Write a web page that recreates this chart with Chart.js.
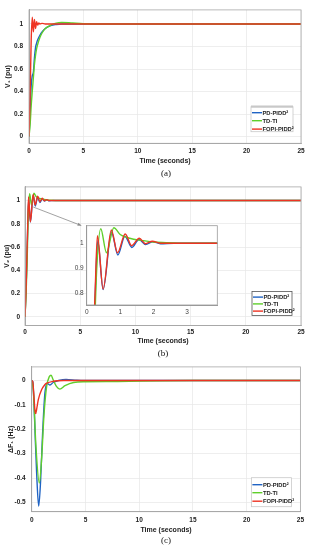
<!DOCTYPE html>
<html><head><meta charset="utf-8">
<script src="https://cdn.jsdelivr.net/npm/chart.js@4"></script>
<style>
html,body{margin:0;padding:0;background:#fff;width:309px;height:550px;overflow:hidden}
canvas{position:absolute}
.cap{position:absolute;width:40px;text-align:center;font-family:"Liberation Serif",serif;font-size:9px;color:#111;line-height:10px}
</style></head><body>
<canvas id="cA" width="309" height="178" style="left:0;top:0"></canvas>
<canvas id="cB" width="309" height="179" style="left:0;top:178px"></canvas>
<canvas id="cC" width="309" height="193" style="left:0;top:357px"></canvas>
<canvas id="cI" width="166" height="104" style="left:58px;top:214px"></canvas>
<div class="cap" style="left:146px;top:168px">(a)</div>
<div class="cap" style="left:143px;top:348px">(b)</div>
<div class="cap" style="left:146px;top:535px">(c)</div>
<script>
// ---------- data ----------
const seriesNames = ['PD-PIDD²', 'TD-TI', 'FOPI-PIDD²'];
const seriesColors = ['#1f63c4', '#5fcf2b', '#ee3322'];
const xTicks = [0, 5, 10, 15, 20, 25];
const v1Ticks = [0, 0.2, 0.4, 0.6, 0.8, 1];
const v2Ticks = [0, 0.2, 0.4, 0.6, 0.8, 1];
const f1Ticks = [0, -0.1, -0.2, -0.3, -0.4, -0.5];
const insetXTicks = [0, 1, 2, 3];
const insetYTicks = [0.8, 0.9, 1];

// (a) V1 (pu)
const tV1PD = [0, 0.1, 0.2, 0.3, 0.4, 0.5, 0.6, 0.7, 0.8, 1.0, 1.2, 1.5, 2, 2.5, 3, 5, 25];
const v1PD  = [0, 0.2, 0.45, 0.54, 0.57, 0.7, 0.79, 0.83, 0.86, 0.9, 0.93, 0.96, 0.985, 0.995, 1, 1, 1];
const tV1TD = [0, 0.1, 0.2, 0.3, 0.4, 0.5, 0.6, 0.7, 0.8, 1.0, 1.2, 1.5, 2, 2.5, 3, 4, 5, 7, 25];
const v1TD  = [0, 0.1, 0.27, 0.4, 0.52, 0.64, 0.72, 0.78, 0.82, 0.88, 0.92, 0.96, 0.99, 1.008, 1.014, 1.008, 1.002, 1, 1];
const tV1FO = [0, 0.1, 0.2, 0.3, 0.4, 0.5, 0.6, 0.7, 0.8, 0.9, 1.0, 1.2, 1.5, 25];
const v1FO  = [0, 0.35, 0.85, 1.06, 0.93, 1.04, 0.96, 1.02, 0.99, 1.01, 1.0, 1.005, 1, 1];

// (b) V2 (pu)
const tV2PD = [0, 0.1, 0.2, 0.25, 0.33, 0.49, 0.74, 0.93, 1.14, 1.35, 1.56, 1.76, 1.97, 2.2, 2.6, 25];
const v2PD  = [0, 0.25, 0.6, 0.78, 1.01, 0.815, 1.045, 0.953, 1.028, 0.983, 1.015, 0.995, 1.006, 0.998, 1, 1];
const tV2TD = [0, 0.1, 0.2, 0.25, 0.3, 0.42, 0.59, 0.81, 1.0, 1.15, 1.4, 1.7, 2.0, 2.4, 3, 25];
const v2TD  = [0, 0.2, 0.5, 0.72, 0.9, 1.058, 0.962, 1.062, 1.035, 1.025, 1.016, 1.01, 1.005, 1.002, 1, 1];
const tV2FO = [0, 0.1, 0.2, 0.25, 0.32, 0.49, 0.735, 0.92, 1.15, 1.34, 1.57, 1.75, 1.96, 2.2, 25];
const v2FO  = [0, 0.25, 0.62, 0.8, 1.03, 0.817, 1.053, 0.962, 1.037, 0.99, 1.02, 0.998, 1.008, 1, 1];

// (c) ΔF1 (Hz)
const tF1PD = [0, 0.1, 0.2, 0.31, 0.46, 0.65, 0.83, 1.02, 1.23, 1.45, 1.7, 2, 2.5, 3.2, 4.2, 5, 25];
const f1PD  = [0, -0.005, -0.08, -0.21, -0.38, -0.515, -0.41, -0.21, -0.05, -0.012, -0.018, -0.008, 0, 0.005, 0.001, 0, 0];
const tF1TD = [0, 0.15, 0.4, 0.71, 0.93, 1.14, 1.39, 1.64, 1.8, 2.0, 2.3, 2.62, 3.1, 3.9, 5, 8, 12, 15, 25];
const f1TD  = [0, -0.04, -0.275, -0.42, -0.315, -0.143, -0.024, 0.016, 0.022, 0.003, -0.024, -0.035, -0.021, -0.008, -0.005, -0.004, -0.001, 0, 0];
const tF1FO = [0, 0.1, 0.2, 0.3, 0.37, 0.45, 0.62, 0.93, 1.2, 1.4, 2, 3, 25];
const f1FO  = [0, -0.005, -0.06, -0.12, -0.135, -0.12, -0.077, -0.037, -0.018, -0.011, -0.003, 0, 0];

// zoom arrow (data coordinates of panel b)
const arrowFrom = [0.75, 0.944];
const arrowTo = [5.1, 0.785];

// ---------- helpers ----------
const FONT = '"Liberation Sans", Arial, sans-serif';
function ds(i, t, v) {
  return {
    label: seriesNames[i],
    data: t.map((x, k) => ({x: x, y: v[k]})),
    borderColor: seriesColors[i],
    backgroundColor: seriesColors[i],
    borderWidth: 1.4,
    pointRadius: 0,
    cubicInterpolationMode: 'monotone',
    order: 2 - i,
    fill: false
  };
}
function fixTicks(list) { return s => { s.ticks = list.map(v => ({value: v})); }; }
const plainLabel = v => String(Math.round(v * 1000) / 1000);

const frame = {
  id: 'frame',
  afterDraw(chart, a, o) {
    const c = chart.chartArea, ctx = chart.ctx;
    ctx.save();
    ctx.strokeStyle = o.color || '#a8a8a8';
    ctx.lineWidth = 0.8;
    ctx.strokeRect(c.left, c.top, c.right - c.left, c.bottom - c.top);
    ctx.restore();
  }
};
const whiteArea = {
  id: 'whiteArea',
  beforeDraw(chart, a, o) {
    if (!o || !o.on) return;
    const c = chart.chartArea, ctx = chart.ctx;
    ctx.save(); ctx.fillStyle = '#fff';
    ctx.fillRect(c.left, c.top, c.right - c.left, c.bottom - c.top);
    ctx.restore();
  }
};
const insideLegend = {
  id: 'insideLegend',
  afterDraw(chart, a, o) {
    if (!o || !o.show) return;
    const c = chart.chartArea, ctx = chart.ctx;
    const x0 = c.right - o.right - o.w, y0 = c.bottom - o.bottom - o.h;
    ctx.save();
    ctx.fillStyle = '#fff';
    ctx.fillRect(x0, y0, o.w, o.h);
    ctx.strokeStyle = o.border; ctx.lineWidth = 0.8;
    ctx.strokeRect(x0, y0, o.w, o.h);
    if (o.header) { ctx.fillStyle = o.header; ctx.fillRect(x0, y0 - 1.2, o.w, 2.2); }
    ctx.font = 'bold 5.8px ' + FONT;
    ctx.textBaseline = 'middle';
    chart.data.datasets.forEach((d, i) => {
      const y = y0 + o.rows[i];
      ctx.strokeStyle = d.borderColor; ctx.lineWidth = 1.4;
      ctx.beginPath(); ctx.moveTo(x0 + 1, y); ctx.lineTo(x0 + 11, y); ctx.stroke();
      ctx.fillStyle = '#222';
      ctx.fillText(d.label, x0 + 11.5, y + 0.3);
    });
    ctx.restore();
  }
};
const zoomArrow = {
  id: 'zoomArrow',
  afterDatasetsDraw(chart, a, o) {
    if (!o || !o.on) return;
    const xs = chart.scales.x, ys = chart.scales.y, ctx = chart.ctx;
    const x1 = xs.getPixelForValue(arrowFrom[0]), y1 = ys.getPixelForValue(arrowFrom[1]);
    const x2 = xs.getPixelForValue(arrowTo[0]), y2 = ys.getPixelForValue(arrowTo[1]);
    const ang = Math.atan2(y2 - y1, x2 - x1);
    ctx.save();
    ctx.strokeStyle = '#8a8a8a'; ctx.fillStyle = '#8a8a8a'; ctx.lineWidth = 0.8;
    ctx.beginPath(); ctx.moveTo(x1, y1); ctx.lineTo(x2, y2); ctx.stroke();
    ctx.beginPath();
    ctx.moveTo(x2, y2);
    ctx.lineTo(x2 - 4 * Math.cos(ang - 0.4), y2 - 4 * Math.sin(ang - 0.4));
    ctx.lineTo(x2 - 4 * Math.cos(ang + 0.4), y2 - 4 * Math.sin(ang + 0.4));
    ctx.closePath(); ctx.fill();
    ctx.restore();
  }
};

// L: layout of a panel inside its canvas
function panel(id, L, datasets, yTicks, yMin, yMax, yTitle, legendOpts, arrowOn) {
  const cv = document.getElementById(id);
  const W = cv.width, H = cv.height;
  const axisBottom = L.titleY + 4.2;
  return new Chart(cv, {
    type: 'line',
    data: {datasets: datasets},
    options: {
      responsive: false, animation: false, devicePixelRatio: 1,
      layout: {padding: {left: 0, right: W - L.right, top: L.top, bottom: H - axisBottom}},
      plugins: {
        legend: {display: false}, tooltip: {enabled: false},
        insideLegend: legendOpts, zoomArrow: {on: arrowOn}, frame: {color: '#a8a8a8'}
      },
      scales: {
        x: {
          type: 'linear', min: 0, max: 25,
          afterBuildTicks: fixTicks(xTicks),
          afterFit: s => { s.height = axisBottom - L.bottom; },
          grid: {color: '#e6e6e6', lineWidth: 0.7, drawTicks: false},
          border: {color: '#a8a8a8'},
          ticks: {padding: L.xtp, color: '#222', callback: plainLabel, font: {family: FONT, size: 6.5, weight: 'bold'}, maxRotation: 0},
          title: {display: true, text: 'Time (seconds)', color: '#222', padding: 0, font: {family: FONT, size: 7, weight: 'bold'}}
        },
        y: {
          type: 'linear', min: yMin, max: yMax,
          afterBuildTicks: fixTicks(yTicks),
          afterFit: s => { s.width = L.left; },
          grid: {color: '#e6e6e6', lineWidth: 0.7, drawTicks: false},
          border: {color: '#a8a8a8'},
          ticks: {padding: L.ytp, color: '#222', callback: plainLabel, font: {family: FONT, size: 6.5, weight: 'bold'}},
          title: {display: true, text: yTitle, color: '#222', padding: {top: L.yttp, bottom: 0}, font: {family: FONT, size: 7, weight: 'bold'}}
        }
      }
    },
    plugins: [whiteArea, frame, insideLegend, zoomArrow]
  });
}

// (a)
panel('cA', {left: 29, right: 301, top: 4.7, bottom: 143.3, titleY: 160.7, xtp: 4, ytp: 6, yttp: 4},
  [ds(0, tV1PD, v1PD), ds(1, tV1TD, v1TD), ds(2, tV1FO, v1FO)],
  v1Ticks, -0.06, 1.125, 'V₁ (pu)',
  {show: true, right: 8, bottom: 11.6, w: 42, h: 25, rows: [6, 14, 22.4], border: '#c8c8c8', header: '#c8c8c8'}, false);

// (b)
panel('cB', {left: 25, right: 301, top: 5.3, bottom: 147.5, titleY: 162.7, xtp: 2.5, ytp: 5, yttp: 2.5},
  [ds(0, tV2PD, v2PD), ds(1, tV2TD, v2TD), ds(2, tV2FO, v2FO)],
  v2Ticks, -0.074, 1.117, 'V₂ (pu)',
  {show: true, right: 9, bottom: 10, w: 40, h: 24, rows: [5.6, 12.4, 19.6], border: '#555', header: null}, true);

// (c)
panel('cC', {left: 31.7, right: 301.7, top: 5, bottom: 154.7, titleY: 173, xtp: 5, ytp: 6, yttp: 6.5},
  [ds(0, tF1PD, f1PD), ds(1, tF1TD, f1TD), ds(2, tF1FO, f1FO)],
  f1Ticks, -0.538, 0.056, 'ΔF₁ (Hz)',
  {show: true, right: 9, bottom: 5, w: 40, h: 29, rows: [7, 15, 23.5], border: '#c8c8c8', header: null}, false);

// inset of (b)
(function () {
  const cv = document.getElementById('cI');
  const L = {left: 28.7, right: 159.3, top: 11.7, bottom: 91};
  new Chart(cv, {
    type: 'line',
    data: {datasets: [ds(0, tV2PD, v2PD), ds(1, tV2TD, v2TD), ds(2, tV2FO, v2FO)]},
    options: {
      responsive: false, animation: false, devicePixelRatio: 1,
      layout: {padding: {left: 0, right: cv.width - L.right, top: L.top, bottom: 0}},
      plugins: {legend: {display: false}, tooltip: {enabled: false}, whiteArea: {on: true}, frame: {color: '#9a9a9a'}},
      scales: {
        x: {
          type: 'linear', min: 0, max: 3.9,
          afterBuildTicks: fixTicks(insetXTicks),
          afterFit: s => { s.height = cv.height - L.bottom; },
          grid: {display: false, drawTicks: false},
          border: {color: '#9a9a9a'},
          ticks: {padding: 3, color: '#444', callback: plainLabel, font: {family: FONT, size: 6.5}, maxRotation: 0}
        },
        y: {
          type: 'linear', min: 0.753, max: 1.07,
          afterBuildTicks: fixTicks(insetYTicks),
          afterFit: s => { s.width = L.left; },
          grid: {display: false, drawTicks: false},
          border: {color: '#9a9a9a'},
          ticks: {padding: 3, color: '#444', callback: plainLabel, font: {family: FONT, size: 6.5}}
        }
      }
    },
    plugins: [whiteArea, frame]
  });
})();
</script>
</body></html>
